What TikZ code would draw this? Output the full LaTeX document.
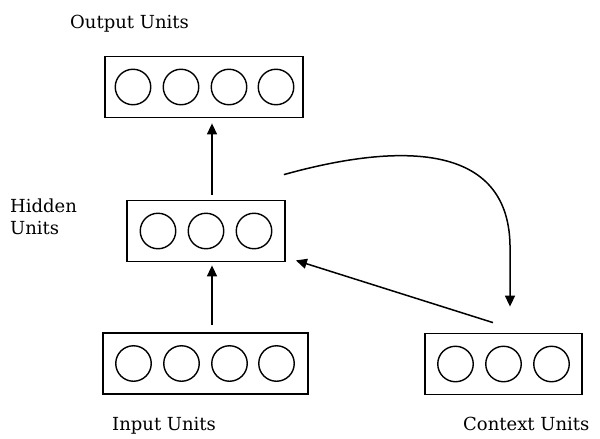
\documentclass[tikz,border=0pt]{standalone}
\usepackage{fontspec}
\setmainfont{DejaVu Serif}
\usetikzlibrary{arrows.meta}
\begin{document}
\begin{tikzpicture}[x=1pt,y=-1pt,
  layer/.style={draw=black,line width=1.8pt,minimum height=61pt,inner sep=0pt},
  unit/.style={circle,draw=black,line width=1.4pt,minimum size=35.5pt,inner sep=0pt},
  lbl/.style={font=\fontsize{18}{22}\selectfont,inner sep=0pt},
  arr/.style={line width=1.5pt,-{Triangle[length=11pt,width=10pt]}}]
\useasboundingbox (0,0) rectangle (600,439);

% layers
\node[layer,minimum width=198pt] (output) at (204,87) {};
\node[layer,minimum width=158pt] (hidden) at (206,231) {};
\node[layer,minimum width=205pt] (input) at (205.5,363.5) {};
\node[layer,minimum width=157pt] (context) at (503.5,364) {};

% units inside each layer
\foreach \dx [count=\i] in {-71,-23,25,72} {
  \node[unit] (o\i) at ([shift={(\dx,0)}]output.center) {};
  \node[unit] (in\i) at ([shift={(\dx-1,0)}]input.center) {};
}
\foreach \dx [count=\i] in {-48,0,48} {
  \node[unit] (h\i) at ([shift={(\dx,0)}]hidden.center) {};
  \node[unit] (c\i) at ([shift={(\dx,0)}]context.center) {};
}

% labels
\node[lbl,anchor=base west] (outlbl) at (70,28) {Output Units};
\node[lbl,anchor=base west,align=left] (hidlbl) at (10,234) {Hidden\\Units};
\node[lbl,anchor=base west] (inlbl) at (112,430) {Input Units};
\node[lbl,anchor=base west] (ctxlbl) at (463,430) {Context Units};

% feed-forward connections
\draw[arr] ([shift={(6,-5)}]hidden.north) -- ([shift={(8,5)}]output.south);
\draw[arr] ([shift={(6.5,-7)}]input.north) -- ([shift={(6,3)}]hidden.south);

% copy of hidden activations to the context layer
\coordinate (copyend) at ([shift={(6.5,-26)}]context.north);
\draw[arr] ([shift={(-2,-25)}]hidden.north east)
  .. controls (390,145) and (508,138) .. (510,245) -- (copyend);

% context fed back into the hidden layer
\draw[arr] ([shift={(-10.5,-10)}]context.north) -- ([shift={(10,-2)}]hidden.south east);
\end{tikzpicture}
\end{document}
